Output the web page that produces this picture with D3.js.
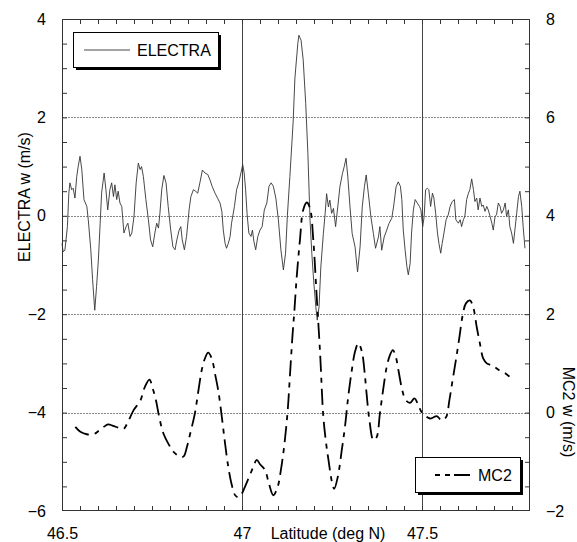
<!DOCTYPE html>
<html>
<head>
<meta charset="utf-8">
<script src="https://cdn.jsdelivr.net/npm/d3@7"></script>
<style>
  body { margin: 0; background: #fff; }
  svg text { font-family: "Liberation Sans", Arial, sans-serif; fill: #000; }
</style>
</head>
<body>
<svg id="chart"></svg>
<script>
// ELECTRA vertical velocity [latitude, w] (left axis)
const electra = [
  [46.5,-0.56],[46.503,-0.73],[46.508,-0.7],[46.515,-0.22],[46.519,0.46],[46.522,0.67],[46.527,0.53],[46.531,0.56],
  [46.536,0.36],[46.541,0.8],[46.545,1.0],[46.55,1.21],[46.555,0.94],[46.561,0.33],[46.569,0.19],[46.573,-0.08],
  [46.58,-0.69],[46.585,-1.3],[46.591,-1.92],[46.596,-1.44],[46.601,-0.9],[46.606,-0.15],[46.61,0.46],[46.617,0.87],
  [46.622,0.53],[46.627,0.12],[46.633,0.53],[46.638,0.67],[46.643,0.39],[46.647,0.63],[46.652,0.33],[46.656,0.5],
  [46.661,0.26],[46.666,0.19],[46.672,-0.35],[46.678,-0.22],[46.683,-0.15],[46.689,-0.42],[46.694,-0.35],[46.7,-0.01],
  [46.706,0.67],[46.712,1.07],[46.717,0.94],[46.721,1.0],[46.726,0.8],[46.733,0.33],[46.74,-0.08],[46.746,-0.49],
  [46.752,-0.63],[46.758,-0.35],[46.763,-0.15],[46.768,-0.25],[46.772,0.05],[46.777,0.53],[46.783,0.82],[46.789,0.67],
  [46.795,0.19],[46.802,-0.29],[46.808,-0.63],[46.814,-0.69],[46.819,-0.49],[46.825,-0.3],[46.83,-0.22],[46.834,-0.49],
  [46.84,-0.69],[46.846,-0.42],[46.853,0.12],[46.858,0.39],[46.865,0.53],[46.871,0.5],[46.877,0.46],[46.883,0.67],
  [46.89,0.93],[46.897,0.87],[46.905,0.84],[46.911,0.73],[46.917,0.6],[46.925,0.46],[46.932,0.36],[46.939,0.26],
  [46.944,0.09],[46.948,-0.29],[46.953,-0.56],[46.957,-0.66],[46.962,-0.56],[46.967,-0.42],[46.971,-0.15],[46.979,0.19],
  [46.985,0.53],[46.992,0.7],[46.997,0.87],[47.002,1.04],[47.006,0.87],[47.01,0.53],[47.014,0.05],[47.019,-0.35],
  [47.025,-0.42],[47.029,-0.29],[47.033,-0.52],[47.038,-0.69],[47.044,-0.42],[47.05,-0.29],[47.056,-0.22],[47.062,0.12],
  [47.069,0.26],[47.075,0.6],[47.081,0.67],[47.087,0.6],[47.094,0.36],[47.101,-0.08],[47.108,-0.69],[47.115,-1.1],
  [47.121,-0.76],[47.126,0.0],[47.133,0.8],[47.142,1.9],[47.147,2.8],[47.155,3.5],[47.158,3.67],[47.164,3.57],
  [47.17,3.17],[47.177,2.28],[47.183,1.27],[47.189,-0.09],[47.194,-0.77],[47.199,-1.31],[47.205,-1.85],[47.209,-2.12],
  [47.214,-1.85],[47.219,-1.04],[47.226,-0.36],[47.231,0.05],[47.235,0.45],[47.24,0.18],[47.244,0.32],[47.249,0.05],
  [47.254,0.15],[47.26,-0.22],[47.266,0.18],[47.272,0.59],[47.279,0.86],[47.284,1.0],[47.289,1.17],[47.294,0.79],
  [47.3,0.18],[47.306,-0.36],[47.314,-0.63],[47.321,-1.14],[47.328,-0.63],[47.334,0.18],[47.34,0.59],[47.345,0.83],
  [47.351,0.45],[47.358,-0.02],[47.365,-0.36],[47.371,-0.66],[47.379,-0.43],[47.383,-0.22],[47.388,-0.7],[47.395,-0.43],
  [47.402,-0.29],[47.408,-0.16],[47.416,-0.05],[47.421,0.18],[47.428,0.59],[47.434,0.69],[47.44,0.6],[47.444,0.33],
  [47.448,-0.29],[47.453,-0.69],[47.458,-1.03],[47.462,-1.2],[47.467,-0.97],[47.471,-0.35],[47.476,0.12],[47.481,0.33],
  [47.487,0.26],[47.493,0.19],[47.497,0.12],[47.502,-0.22],[47.506,-0.01],[47.51,0.53],[47.515,0.56],[47.519,0.53],
  [47.524,0.19],[47.529,0.46],[47.533,0.36],[47.538,0.05],[47.543,-0.35],[47.547,-0.56],[47.552,-0.76],[47.556,-0.56],
  [47.561,-0.35],[47.567,-0.08],[47.573,0.02],[47.578,0.19],[47.584,0.29],[47.59,0.33],[47.594,-0.08],[47.601,-0.15],
  [47.606,-0.08],[47.61,-0.22],[47.615,-0.08],[47.619,-0.01],[47.624,0.33],[47.629,0.46],[47.633,0.53],[47.638,0.75],
  [47.643,0.53],[47.647,0.29],[47.652,0.36],[47.656,0.12],[47.661,0.36],[47.666,0.19],[47.67,0.22],[47.675,0.09],
  [47.68,0.19],[47.684,0.12],[47.689,-0.01],[47.694,-0.15],[47.698,-0.29],[47.703,-0.01],[47.707,0.02],[47.712,0.26],
  [47.717,0.19],[47.721,0.05],[47.726,0.12],[47.731,0.26],[47.735,-0.01],[47.74,0.12],[47.744,-0.22],[47.749,-0.35],
  [47.754,-0.56],[47.758,-0.29],[47.763,0.05],[47.768,0.39],[47.772,0.5],[47.777,0.19],[47.781,-0.22],[47.786,-0.66]
];

// MC2 vertical velocity [latitude, w] (right axis)
const mc2 = [
  [46.537,-0.29],[46.551,-0.39],[46.569,-0.44],[46.588,-0.44],[46.602,-0.37],[46.616,-0.29],[46.628,-0.24],[46.642,-0.27],
  [46.658,-0.31],[46.671,-0.33],[46.685,-0.16],[46.699,0.05],[46.718,0.25],[46.73,0.52],[46.743,0.67],[46.752,0.49],
  [46.761,0.25],[46.77,-0.09],[46.782,-0.43],[46.796,-0.64],[46.81,-0.8],[46.829,-0.9],[46.838,-0.89],[46.847,-0.7],
  [46.856,-0.43],[46.869,-0.02],[46.879,0.45],[46.888,0.86],[46.897,1.1],[46.906,1.22],[46.916,1.1],[46.925,0.79],
  [46.934,0.45],[46.944,-0.09],[46.953,-0.63],[46.962,-1.11],[46.971,-1.45],[46.981,-1.68],[46.99,-1.72],[46.999,-1.65],
  [47.004,-1.58],[47.018,-1.34],[47.031,-1.11],[47.041,-0.96],[47.05,-1.05],[47.064,-1.17],[47.075,-1.45],[47.087,-1.68],
  [47.099,-1.51],[47.108,-1.17],[47.118,-0.63],[47.127,0.05],[47.133,0.73],[47.14,1.54],[47.145,2.02],[47.152,2.76],
  [47.161,3.51],[47.17,4.12],[47.18,4.27],[47.189,4.15],[47.198,3.51],[47.207,2.42],[47.217,1.2],[47.226,-0.09],
  [47.235,-0.7],[47.24,-0.95],[47.249,-1.38],[47.256,-1.55],[47.266,-1.31],[47.277,-0.77],[47.286,-0.29],[47.295,0.32],
  [47.305,0.86],[47.314,1.24],[47.323,1.41],[47.333,1.24],[47.34,0.86],[47.346,0.39],[47.354,-0.16],[47.365,-0.56],
  [47.374,-0.5],[47.383,-0.02],[47.392,0.46],[47.402,0.93],[47.411,1.17],[47.419,1.27],[47.427,1.14],[47.436,0.8],
  [47.445,0.46],[47.455,0.25],[47.467,0.2],[47.479,0.29],[47.49,0.15],[47.499,0.01],[47.522,-0.12],[47.531,-0.1],
  [47.541,-0.07],[47.555,-0.16],[47.567,-0.09],[47.576,0.25],[47.585,0.66],[47.594,1.06],[47.604,1.54],[47.613,1.98],
  [47.622,2.22],[47.633,2.28],[47.643,2.12],[47.652,1.74],[47.661,1.4],[47.67,1.1],[47.68,1.0],[47.694,0.96],
  [47.703,0.92],[47.717,0.85],[47.733,0.79],[47.743,0.73]
];

const xTicks = [46.5, 47, 47.5];
const leftTicks = [-6, -4, -2, 0, 2, 4];
const rightTicks = [-2, 0, 2, 4, 6, 8];
const gridValues = [-4, -2, 0, 2];   // dotted lines, left-axis units
const vLines = [47, 47.5];

const W = 577, H = 542;
const margin = { top: 19, left: 62, bottom: 31, right: 47 };

const svg = d3.select('#chart').attr('width', W).attr('height', H);

const x = d3.scaleLinear().domain([46.5, 47.8]).range([margin.left, W - margin.right]);
const yL = d3.scaleLinear().domain([-6, 4]).range([H - margin.bottom, margin.top]);
const yR = d3.scaleLinear().domain([-2, 8]).range([H - margin.bottom, margin.top]);

const x0 = x.range()[0], x1 = x.range()[1];
const yTop = margin.top, yBot = H - margin.bottom;

// dotted horizontal grid
svg.append('g').selectAll('line')
  .data(gridValues).enter().append('line')
  .attr('x1', x0).attr('x2', x1)
  .attr('y1', d => Math.round(yL(d)) + 0.5).attr('y2', d => Math.round(yL(d)) + 0.5)
  .attr('stroke', '#888').attr('stroke-width', 1).attr('stroke-dasharray', '2,1');

// vertical reference lines
svg.append('g').selectAll('line')
  .data(vLines).enter().append('line')
  .attr('x1', d => Math.round(x(d)) + 0.5).attr('x2', d => Math.round(x(d)) + 0.5)
  .attr('y1', yTop).attr('y2', yBot)
  .attr('stroke', '#444').attr('stroke-width', 1);

// minor ticks (inside)
const minorX = d3.range(46.55, 47.8, 0.05);
const minorY = d3.range(-5.5, 4, 0.5);

const axisStyle = g => {
  g.select('.domain').remove();
  g.selectAll('.tick line').attr('stroke', '#333');
  g.selectAll('.tick text').remove();
};

svg.append('g').attr('transform', `translate(0,${yBot})`)
  .call(d3.axisBottom(x).tickValues(minorX).tickSizeInner(-5).tickSizeOuter(0))
  .call(axisStyle);
svg.append('g').attr('transform', `translate(0,${yTop})`)
  .call(d3.axisTop(x).tickValues(minorX).tickSizeInner(-5).tickSizeOuter(0))
  .call(axisStyle);
svg.append('g').attr('transform', `translate(${x0},0)`)
  .call(d3.axisLeft(yL).tickValues(minorY).tickSizeInner(-5).tickSizeOuter(0))
  .call(axisStyle);
svg.append('g').attr('transform', `translate(${x1},0)`)
  .call(d3.axisRight(yL).tickValues(minorY).tickSizeInner(-5).tickSizeOuter(0))
  .call(axisStyle);

// tick labels
const labelStyle = g => {
  g.select('.domain').remove();
  g.selectAll('.tick line').remove();
  g.selectAll('.tick text').attr('font-size', 16).attr('font-family', '"Liberation Sans", Arial, sans-serif');
};

svg.append('g').attr('transform', `translate(0,${yBot + 14})`)
  .call(d3.axisBottom(x).tickValues(xTicks).tickFormat(d3.format('')).tickSize(0))
  .call(labelStyle);
svg.append('g').attr('transform', `translate(${x0 - 13},0)`)
  .call(d3.axisLeft(yL).tickValues(leftTicks).tickFormat(d3.format('')).tickSize(0))
  .call(labelStyle);
svg.append('g').attr('transform', `translate(${x1 + 13},0)`)
  .call(d3.axisRight(yR).tickValues(rightTicks).tickFormat(d3.format('')).tickSize(0))
  .call(labelStyle);

// frame
svg.append('rect')
  .attr('x', x0 + 0.5).attr('y', yTop + 0.5)
  .attr('width', x1 - x0 - 1).attr('height', yBot - yTop - 1)
  .attr('fill', 'none').attr('stroke', '#333').attr('stroke-width', 1);

// series
const lineL = d3.line().x(d => x(d[0])).y(d => yL(d[1]));
const lineR = d3.line().x(d => x(d[0])).y(d => yR(d[1])).curve(d3.curveCatmullRom);

svg.append('path').datum(electra)
  .attr('d', lineL)
  .attr('fill', 'none').attr('stroke', '#333').attr('stroke-width', 0.9);

svg.append('path').datum(mc2)
  .attr('d', lineR)
  .attr('fill', 'none').attr('stroke', '#000').attr('stroke-width', 1.8)
  .attr('stroke-dasharray', '16,6,5,6');

// axis titles
svg.append('text')
  .attr('transform', `translate(30,197) rotate(-90)`)
  .attr('text-anchor', 'middle').attr('font-size', 16)
  .text('ELECTRA w (m/s)');
svg.append('text')
  .attr('transform', `translate(563,412) rotate(90)`)
  .attr('text-anchor', 'middle').attr('font-size', 16)
  .text('MC2  w (m/s)');
svg.append('text')
  .attr('x', 328).attr('y', yBot + 28)
  .attr('text-anchor', 'middle').attr('font-size', 16)
  .text('Latitude (deg N)');

// legends with drop shadows
function legend(bx, by, bw, bh, dash, width, color, label, lx1, lx2, tx) {
  const g = svg.append('g');
  g.append('rect').attr('x', bx + 3).attr('y', by + 3).attr('width', bw).attr('height', bh).attr('fill', '#000');
  g.append('rect').attr('x', bx + 0.5).attr('y', by + 0.5).attr('width', bw).attr('height', bh)
    .attr('fill', '#fff').attr('stroke', '#000').attr('stroke-width', 1);
  const ly = by + bh / 2 + 0.5;
  g.append('line').attr('x1', lx1).attr('x2', lx2).attr('y1', ly).attr('y2', ly)
    .attr('stroke', color).attr('stroke-width', width).attr('stroke-dasharray', dash);
  g.append('text').attr('x', tx).attr('y', ly + 6).attr('font-size', 16).text(label);
}
legend(73, 32, 145, 35, null, 0.9, '#333', 'ELECTRA', 84, 130, 137);
legend(415, 457, 105, 35, '5,5,5,4,20', 1.8, '#000', 'MC2', 435, 470, 478);
</script>
</body>
</html>
